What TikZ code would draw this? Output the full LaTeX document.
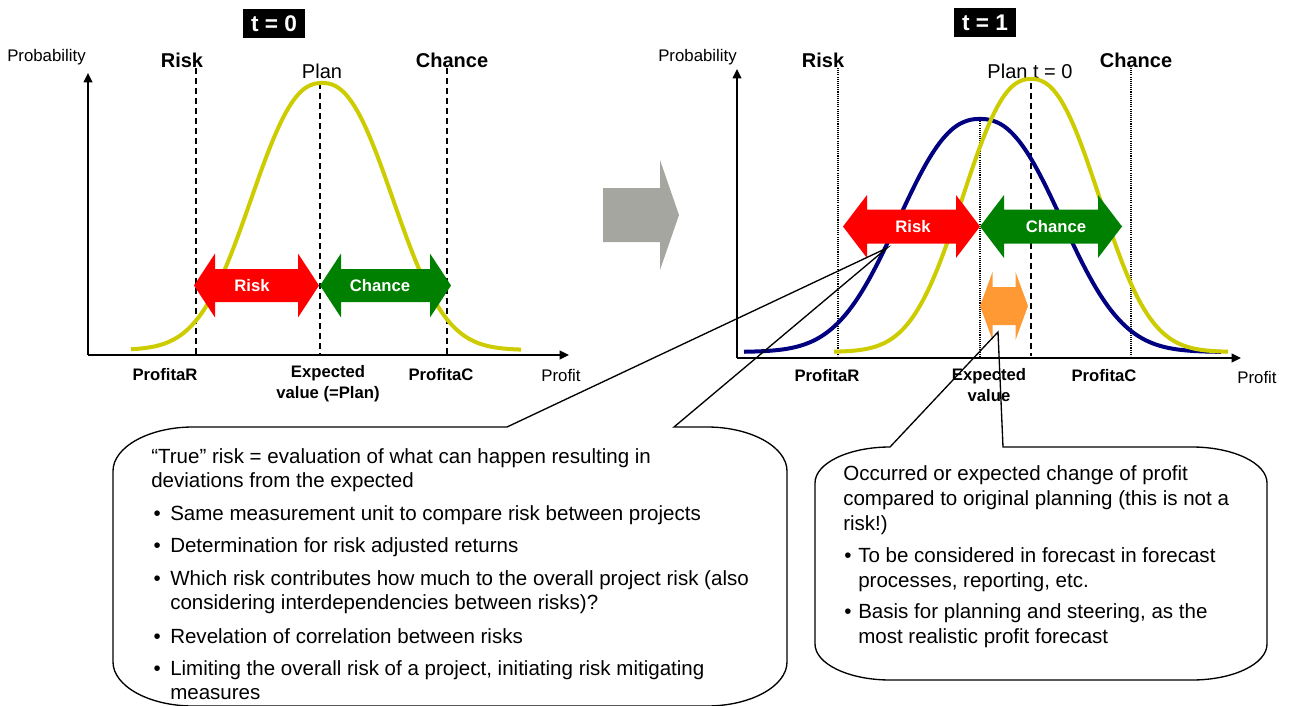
\documentclass[tikz,border=0pt]{standalone}
\usepackage{fontspec}
\setmainfont{Liberation Sans}
\usetikzlibrary{arrows.meta}

\definecolor{curveY}{RGB}{204,204,0}
\definecolor{curveB}{RGB}{0,0,128}
\definecolor{arrR}{RGB}{255,0,0}
\definecolor{arrG}{RGB}{0,128,0}
\definecolor{arrO}{RGB}{255,153,51}
\definecolor{arrGray}{RGB}{166,166,160}

% double headed block arrow: colour, x left tip, x right tip, y, head length, half shaft, half head
\newcommand{\dblarr}[7]{%
  \fill[#1] (#2,#4) -- ({#2+#5},{#4-#7}) -- ({#2+#5},{#4-#6}) -- ({#3-#5},{#4-#6})
    -- ({#3-#5},{#4-#7}) -- (#3,#4) -- ({#3-#5},{#4+#7}) -- ({#3-#5},{#4+#6})
    -- ({#2+#5},{#4+#6}) -- ({#2+#5},{#4+#7}) -- cycle;}

\tikzset{
  lbl/.style={font=\fontsize{12.6}{15}\selectfont},
  lblb/.style={font=\bfseries\fontsize{12.5}{15.75}\selectfont, align=center},
  head/.style={font=\bfseries\fontsize{15}{18}\selectfont},
  plan/.style={font=\fontsize{15}{18}\selectfont},
  tbox/.style={fill=black, text=white, font=\bfseries\fontsize{17}{20}\selectfont,
    minimum width=46.5pt, minimum height=21.5pt, inner sep=0pt},
  arrtxt/.style={text=white, font=\bfseries\fontsize{12.5}{15}\selectfont},
  axis/.style={line width=1.1pt, -{Triangle[length=7pt,width=6.5pt]}},
  curve/.style={line width=3pt},
  guide/.style={line width=0.9pt, dash pattern=on 4.5pt off 3pt},
  dots/.style={line width=0.9pt, dash pattern=on 0.8pt off 0.8pt},
  callout/.style={line width=1pt},
  ctext/.style={font=\fontsize{15.4}{18}\selectfont, align=left, anchor=west, inner sep=0pt},
}

\begin{document}
\begin{tikzpicture}[x=0.75pt,y=-0.75pt]
\useasboundingbox (0,0) rectangle (1295,706);

% t = 0
\node[tbox] (t0) at (274,23.5) {t = 0};
\coordinate (oL) at (88,355);
\coordinate (yL) at (88,73);
\coordinate (xL) at (569,355);
\draw[axis] (oL) -- (yL);
\draw[axis] (oL) -- (xL);
\node[lbl, anchor=west, inner sep=0pt] (probL) at (7,57) {Probability};
\node[head] (riskL) at (182,60) {Risk};
\node[head] (chanceL) at (452,60) {Chance};
\node[plan] (planL) at (322,71) {Plan};
\draw[guide] (196,68) -- (196,354);
\draw[guide] (320,83) -- (320,354);
\draw[guide] (447,68) -- (447,354);
\draw[curve, curveY] plot[domain=131:521, samples=90, smooth]
  (\x, {350-267*exp(-pow((abs(\x-322)+0.01)/90,2.35))});
\dblarr{arrR}{194}{319}{285.5}{21}{16.5}{32}
\dblarr{arrG}{320}{451}{285.5}{21}{16.5}{32}
\node[arrtxt] (rk0) at (252,286) {Risk};
\node[arrtxt] (ch0) at (380,286) {Chance};
\node[lblb] (parL) at (165,375) {ProfitaR};
\node[lblb] (expL) at (328,383.5) {Expected\\value (=Plan)};
\node[lblb] (pacL) at (441,375) {ProfitaC};
\node[lbl] (profL) at (561,375) {Profit};

% arrow between
\fill[arrGray] (603,188) -- (660,188) -- (660,160) -- (679,215) -- (660,270)
  -- (660,242) -- (603,242) -- cycle;

% t = 1
\node[tbox] (t1) at (985,22.5) {t = 1};
\coordinate (oR) at (737,358);
\coordinate (yR) at (737,69);
\coordinate (xR) at (1241,358);
\draw[axis] (oR) -- (yR);
\draw[axis] (oR) -- (xR);
\node[lbl, anchor=west, inner sep=0pt] (probR) at (658,57) {Probability};
\node[head] (riskR) at (823,60) {Risk};
\node[head] (chanceR) at (1136,60) {Chance};
\node[plan] (planR) at (1030,71) {Plan t = 0};
\draw[dots] (838,68) -- (838,356);
\draw[dots] (980,119) -- (980,356);
\draw[dots] (1131,68) -- (1131,356);
\draw[guide] (1031,83) -- (1031,356);
\draw[curve, curveB] plot[domain=744:1221, samples=100, smooth]
  (\x, {352-233*exp(-pow((abs(\x-980)+0.01)/104,2.35))});
\draw[curve, curveY] plot[domain=834:1228, samples=90, smooth]
  (\x, {352-273*exp(-pow((abs(\x-1031)+0.01)/87,2.35))});
\dblarr{arrR}{843}{980}{226.5}{24}{17}{31.5}
\dblarr{arrG}{980}{1122}{226.5}{24}{17}{31.5}
\dblarr{arrO}{980}{1028}{306}{12.5}{19}{34}
\node[arrtxt] (rk1) at (913,227) {Risk};
\node[arrtxt] (ch1) at (1056,227) {Chance};
\node[lblb] (parR) at (827,376) {ProfitaR};
\node[lblb] (expR) at (989,385.5) {Expected\\value};
\node[lblb] (pacR) at (1104,376) {ProfitaC};
\node[lbl] (profR) at (1257,377) {Profit};

% callouts
\coordinate (tipL) at (887,248);
\coordinate (tipR) at (998,332);
\draw[callout] (507,427) -- (tipL) -- (674,427) -- (707,427)
  .. controls (751,427) and (787,447) .. (787,471) -- (787,662)
  .. controls (787,686) and (751,706) .. (707,706) -- (193,706)
  .. controls (149,706) and (113,686) .. (113,662) -- (113,471)
  .. controls (113,447) and (149,427) .. (193,427) -- cycle;
\draw[callout] (890,447) -- (tipR) -- (1003,447) -- (1192,447)
  .. controls (1233,447) and (1267,463) .. (1267,483) -- (1267,644)
  .. controls (1267,664) and (1233,680) .. (1192,680) -- (890,680)
  .. controls (849,680) and (815,664) .. (815,644) -- (815,483)
  .. controls (815,463) and (849,447) .. (890,447) -- cycle;

\node[ctext] (trueL) at (151,470) {“True” risk = evaluation of what can happen resulting in\\deviations from the expected};
\node[ctext] (itL1) at (170,515) {\llap{•\hspace{7pt}}Same measurement unit to compare risk between projects};
\node[ctext] (itL2) at (170,547) {\llap{•\hspace{7pt}}Determination for risk adjusted returns};
\node[ctext] (itL3) at (170,592) {\llap{•\hspace{7pt}}Which risk contributes how much to the overall project risk (also\\considering interdependencies between risks)?};
\node[ctext] (itL4) at (170,636) {\llap{•\hspace{7pt}}Revelation of correlation between risks};
\node[ctext] (itL5) at (170,680.5) {\llap{•\hspace{7pt}}Limiting the overall risk of a project, initiating risk mitigating\\measures};

\node[ctext, font=\fontsize{15.4}{18.75}\selectfont] (occR) at (843,500) {Occurred or expected change of profit\\compared to original planning (this is not a\\risk!)};
\node[ctext, font=\fontsize{15.4}{18.75}\selectfont] (itR1) at (858,569.5) {\llap{•\hspace{5pt}}To be considered in forecast in forecast\\processes, reporting, etc.};
\node[ctext, font=\fontsize{15.4}{18.75}\selectfont] (itR2) at (858,625.5) {\llap{•\hspace{5pt}}Basis for planning and steering, as the\\most realistic profit forecast};
\end{tikzpicture}
\end{document}
